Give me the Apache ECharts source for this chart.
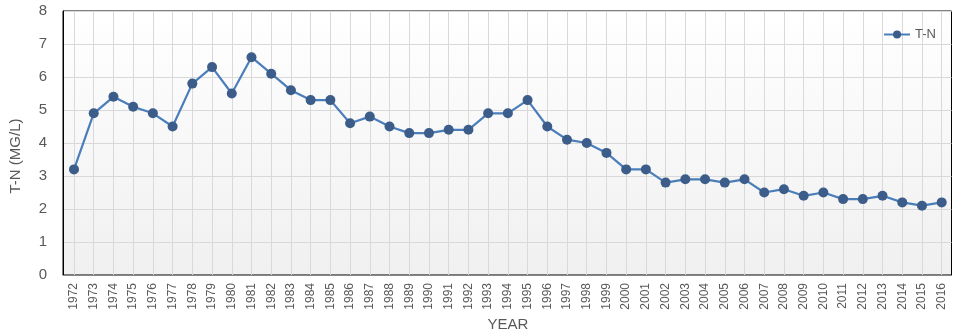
<!DOCTYPE html>
<html>
<head>
<meta charset="utf-8">
<script src="https://cdn.jsdelivr.net/npm/echarts@6/dist/echarts.min.js"></script>
<style>
  html, body { margin: 0; padding: 0; background: #fff; }
  #chart { width: 959px; height: 333px; }
</style>
</head>
<body>
<div id="chart"></div>
<script>
// Annual total nitrogen concentration, 1972-2016
const years = [
  '1972','1973','1974','1975','1976','1977','1978','1979','1980','1981',
  '1982','1983','1984','1985','1986','1987','1988','1989','1990','1991',
  '1992','1993','1994','1995','1996','1997','1998','1999','2000','2001',
  '2002','2003','2004','2005','2006','2007','2008','2009','2010','2011',
  '2012','2013','2014','2015','2016'
];
const tnValues = [
  3.2, 4.9, 5.4, 5.1, 4.9, 4.5, 5.8, 6.3, 5.5, 6.6,
  6.1, 5.6, 5.3, 5.3, 4.6, 4.8, 4.5, 4.3, 4.3, 4.4,
  4.4, 4.9, 4.9, 5.3, 4.5, 4.1, 4.0, 3.7, 3.2, 3.2,
  2.8, 2.9, 2.9, 2.8, 2.9, 2.5, 2.6, 2.4, 2.5, 2.3,
  2.3, 2.4, 2.2, 2.1, 2.2
];
const yTicks = { min: 0, max: 8, interval: 1 };

const font = 'Liberation Sans, Arial, sans-serif';
const textGray = '#595959';
const gridGray = '#d9d9d9';

const chart = echarts.init(document.getElementById('chart'), null, { renderer: 'canvas' });

chart.setOption({
  animation: false,
  textStyle: { fontFamily: font },
  legend: {
    right: 18,
    top: 23,
    itemWidth: 26,
    itemHeight: 10,
    itemGap: 4,
    textStyle: { color: textGray, fontSize: 13, fontFamily: font },
    data: ['T-N']
  },
  graphic: [{
    type: 'text',
    x: 16,
    y: 156,
    rotation: Math.PI / 2,
    style: {
      text: 'T-N (MG/L)',
      fill: textGray,
      font: '15px ' + font,
      align: 'center',
      verticalAlign: 'middle'
    }
  }],
  grid: [
    // framed plot area with shaded background and horizontal gridlines
    {
      left: 63, right: 7.5, top: 11, bottom: 58,
      outerBoundsMode: 'none',
      containLabel: false,
      show: true,
      borderColor: '#000',
      borderWidth: 1,
      backgroundColor: {
        type: 'linear', x: 0, y: 0, x2: 0, y2: 1,
        colorStops: [
          { offset: 0, color: '#ffffff' },
          { offset: 1, color: '#f0f0f0' }
        ]
      }
    },
    // data area, inset so the first and last years sit inside the frame
    {
      left: 74, right: 17.3, top: 11, bottom: 58,
      outerBoundsMode: 'none',
      containLabel: false
    }
  ],
  xAxis: [
    {
      gridIndex: 0,
      type: 'value',
      min: 0, max: 1,
      axisLine: { show: true, lineStyle: { color: '#868686', width: 1 } },
      axisTick: { show: false },
      axisLabel: { show: false },
      splitLine: { show: false }
    },
    {
      gridIndex: 1,
      type: 'category',
      data: years,
      boundaryGap: false,
      axisLine: { show: false },
      axisTick: { show: false },
      axisLabel: {
        interval: 0,
        rotate: 90,
        margin: 8,
        color: textGray,
        fontSize: 12,
        fontFamily: font
      },
      splitLine: { show: true, interval: 0, lineStyle: { color: gridGray, width: 1 } },
      name: 'YEAR',
      nameLocation: 'middle',
      nameGap: 39,
      nameTextStyle: { color: textGray, fontSize: 15, fontFamily: font }
    }
  ],
  yAxis: [
    {
      gridIndex: 0,
      type: 'value',
      min: yTicks.min, max: yTicks.max, interval: yTicks.interval,
      axisLine: { show: true, lineStyle: { color: '#000', width: 1 } },
      axisTick: { show: false },
      axisLabel: { color: textGray, fontSize: 15, margin: 16, fontFamily: font },
      splitLine: { show: true, lineStyle: { color: gridGray, width: 1 } }
    },
    {
      gridIndex: 1,
      type: 'value',
      min: yTicks.min, max: yTicks.max, interval: yTicks.interval,
      show: false
    }
  ],
  series: [{
    name: 'T-N',
    type: 'line',
    xAxisIndex: 1,
    yAxisIndex: 1,
    data: tnValues,
    symbol: 'circle',
    symbolSize: 10,
    showSymbol: true,
    lineStyle: { color: '#4a7ebb', width: 2.2 },
    itemStyle: { color: '#3c5d89', borderColor: '#3c5d89', borderWidth: 0 }
  }]
});
</script>
</body>
</html>
